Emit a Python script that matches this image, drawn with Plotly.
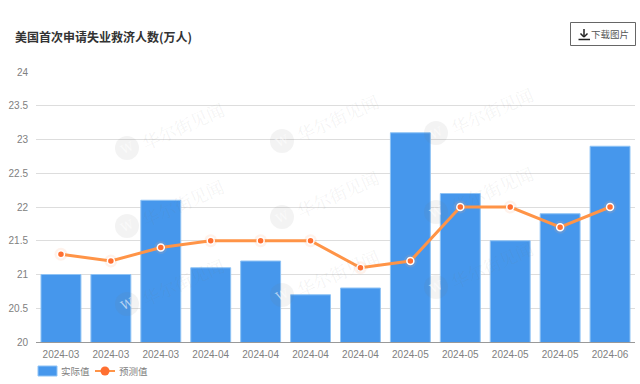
import plotly.graph_objects as go

months = ["2024-03", "2024-03", "2024-03", "2024-04", "2024-04", "2024-04",
          "2024-04", "2024-05", "2024-05", "2024-05", "2024-05", "2024-06"]
actual = [21.0, 21.0, 22.1, 21.1, 21.2, 20.7, 20.8, 23.1, 22.2, 21.5, 21.9, 22.9]
forecast = [21.3, 21.2, 21.4, 21.5, 21.5, 21.5, 21.1, 21.2, 22.0, 22.0, 21.7, 22.0]
y_ticks = [20, 20.5, 21, 21.5, 22, 22.5, 23, 23.5, 24]
y_labels = ["20", "20.5", "21", "21.5", "22", "22.5", "23", "23.5", "24"]
positions = list(range(len(months)))
title_text = "美国首次申请失业救济人数(万人)"
button_text = "下载图片"
legend_actual = "实际值"
legend_forecast = "预测值"
watermark = "华尔街见闻"
logo_spots = [(127, 148), (282, 141), (436, 133),
              (127, 226), (282, 217), (436, 212),
              (127, 304), (282, 295), (436, 287)]

W, H = 640, 384
ML, MR, TOP, BOTTOM = 36, 5, 72, 342
CJK = "Noto Sans CJK SC, Noto Sans, sans-serif"
LATIN = "Liberation Sans, Arial, sans-serif"
GREY = "#808080"
px = lambda v: (v - ML) / (W - ML - MR)
py = lambda v: (H - v) / H


def note(text, x, y, size, color, family=CJK, anchor="left", angle=0):
    return dict(text=text, x=px(x), y=py(y), xref="paper", yref="paper",
                xanchor=anchor, yanchor="middle", showarrow=False, textangle=angle,
                borderpad=0, font=dict(size=size, color=color, family=family))


def line(x0, y0, x1, y1, color, width):
    return dict(type="line", xref="paper", yref="paper",
                x0=px(x0), x1=px(x1), y0=py(y0), y1=py(y1),
                line=dict(color=color, width=width))


def dot(cx, cy, r, color, layer="above"):
    return dict(type="circle", xref="paper", yref="paper", layer=layer,
                x0=px(cx - r), x1=px(cx + r), y0=py(cy - r), y1=py(cy + r),
                fillcolor=color, line=dict(width=0))


fig = go.Figure()
fig.add_trace(go.Bar(
    x=positions, y=actual, name=legend_actual, width=0.8,
    marker=dict(color="#4697ec", line=dict(color="#8fc3f5", width=1)),
))
fig.add_trace(go.Scatter(
    x=positions, y=forecast, mode="markers", hoverinfo="skip",
    marker=dict(size=13, color="rgba(255,170,120,0.15)"),
))
fig.add_trace(go.Scatter(
    x=positions, y=forecast, name=legend_forecast, mode="lines+markers",
    line=dict(color="#ff9447", width=3),
    marker=dict(size=7, color="#ff6f31", line=dict(color="#ffffff", width=1.5)),
))

annotations = [
    note("<b>" + title_text + "</b>", 14, 36, 12, "#333333"),
    note(button_text, 590, 34, 9.5, "#555555"),
    note(legend_actual, 60, 371, 9.5, GREY),
    note(legend_forecast, 118, 371, 9.5, GREY),
]
shapes = [dict(type="rect", xref="paper", yref="paper",
               x0=px(570.5), x1=px(635.5), y0=py(22.5), y1=py(45.5),
               line=dict(color="#666666", width=1), fillcolor="rgba(0,0,0,0)")]
shapes += [line(578.5, 39.5, 590, 39.5, "#222222", 1.5),
           line(584, 29, 584, 37, "#222222", 1.5),
           line(580.5, 33.5, 584, 37, "#222222", 1.5),
           line(587.5, 33.5, 584, 37, "#222222", 1.5)]
shapes.append(dict(type="rect", xref="paper", yref="paper",
                   x0=px(38), x1=px(57), y0=py(366), y1=py(376),
                   fillcolor="#4697ec", line=dict(color="#8fc3f5", width=1)))
shapes.append(line(95, 371, 115, 371, "#ff9447", 2))
shapes.append(dot(105, 371, 4.5, "#ff6f31"))
for cx, cy in logo_spots:
    shapes.append(dot(cx, cy, 12, "rgba(120,120,120,0.09)"))
    annotations.append(note("W", cx, cy, 12, "rgba(255,255,255,0.6)", "DejaVu Serif", "center", -25))
    annotations.append(note(watermark, cx + 56, cy - 23, 17.5, "rgba(120,120,120,0.09)",
                            "Noto Serif CJK SC, Noto Sans CJK SC", "center", -24))

fig.update_layout(
    width=W, height=H, autosize=False, showlegend=False,
    margin=dict(l=ML, r=MR, t=0, b=0, autoexpand=False),
    paper_bgcolor="#ffffff", plot_bgcolor="#ffffff",
    font=dict(family=LATIN, size=10, color=GREY),
    shapes=shapes, annotations=annotations,
    xaxis=dict(tickmode="array", tickvals=positions, ticktext=months,
               range=[-0.5, 11.5], showgrid=False, showline=True,
               linecolor="#999999", linewidth=1, ticks="outside", ticklen=3,
               tickcolor="rgba(0,0,0,0)", zeroline=False, anchor="y",
               tickfont=dict(size=10, color=GREY, family=LATIN)),
    yaxis=dict(tickmode="array", tickvals=y_ticks, ticktext=y_labels,
               domain=[py(BOTTOM), py(TOP)], range=[20, 24], showgrid=True,
               gridcolor="#dddddd", gridwidth=1, showline=False, zeroline=False,
               ticks="outside", ticklen=5, tickcolor="rgba(0,0,0,0)",
               tickfont=dict(size=10, color=GREY, family=LATIN)),
)
fig.write_html("out.html", config=dict(displayModeBar=False),
               post_script="document.body.style.margin='0';")
